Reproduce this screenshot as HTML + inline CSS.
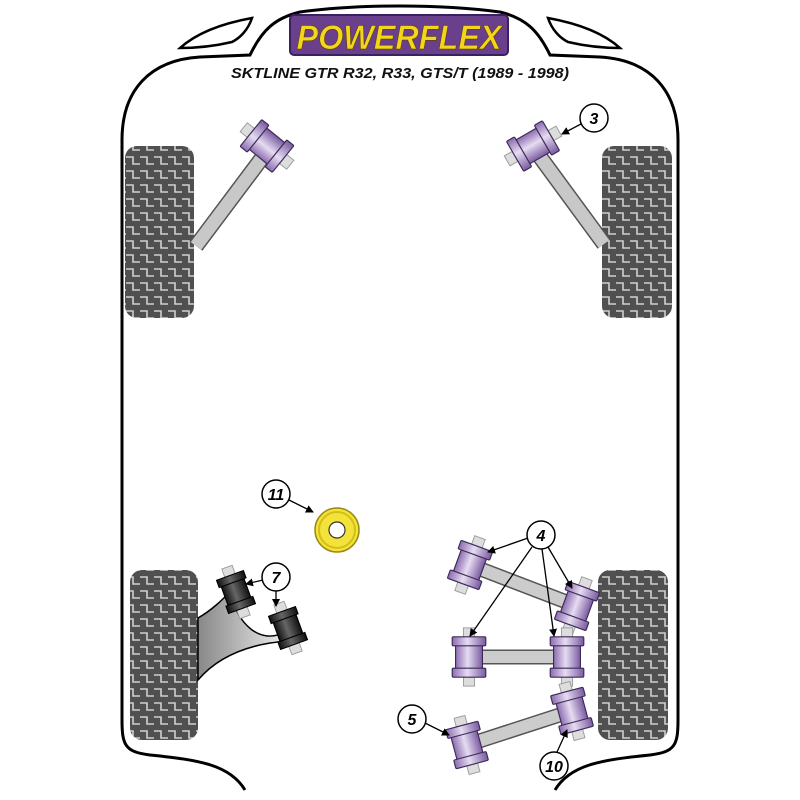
<!DOCTYPE html>
<html><head><meta charset="utf-8"><style>html,body{margin:0;padding:0;background:#fff}svg{display:block}</style></head>
<body>
<svg width="800" height="800" viewBox="0 0 800 800" xmlns="http://www.w3.org/2000/svg">
<defs>
<pattern id="tread" width="14" height="14" patternUnits="userSpaceOnUse">
<rect width="14" height="14" fill="#505050"/>
<path d="M0 3 H7 V10 H14" fill="none" stroke="#d0d0d0" stroke-width="1.6"/>
</pattern>
<linearGradient id="pur" x1="0" x2="1" y1="0" y2="0">
<stop offset="0" stop-color="#8c6cb0"/><stop offset="0.45" stop-color="#e6dcf2"/><stop offset="1" stop-color="#7a5aa0"/>
</linearGradient>
<linearGradient id="blk" x1="0" x2="1" y1="0" y2="0">
<stop offset="0" stop-color="#111"/><stop offset="0.45" stop-color="#666"/><stop offset="1" stop-color="#111"/>
</linearGradient>
<linearGradient id="wish" x1="0" x2="1" y1="0" y2="0">
<stop offset="0" stop-color="#888"/><stop offset="1" stop-color="#eee"/>
</linearGradient>
<g id="bush">
<rect x="-5" y="-26" width="10" height="10" fill="#ddd" stroke="#999" stroke-width="0.8"/>
<rect x="-5" y="16" width="10" height="10" fill="#ddd" stroke="#999" stroke-width="0.8"/>
<rect x="-12" y="-17" width="24" height="34" fill="url(#pur)" stroke="#3a2a55" stroke-width="1"/>
<rect x="-15" y="-18" width="30" height="8" rx="1" fill="url(#pur)" stroke="#3a2a55" stroke-width="1"/>
<rect x="-15" y="10" width="30" height="8" rx="1" fill="url(#pur)" stroke="#3a2a55" stroke-width="1"/>
</g>
<g id="bblk">
<rect x="-5" y="-24" width="10" height="10" fill="#ddd" stroke="#999" stroke-width="0.8"/>
<rect x="-5" y="14" width="10" height="10" fill="#ddd" stroke="#999" stroke-width="0.8"/>
<rect x="-11" y="-15" width="22" height="30" fill="url(#blk)" stroke="#000"/>
<rect x="-13" y="-16" width="26" height="7" fill="url(#blk)" stroke="#000"/>
<rect x="-13" y="9" width="26" height="7" fill="url(#blk)" stroke="#000"/>
</g>
<marker id="ar" markerWidth="8" markerHeight="8" refX="7" refY="4" orient="auto" markerUnits="userSpaceOnUse"><path d="M0 0 L8 4 L0 8 Z" fill="#000"/></marker>
</defs>

<path d="M245 790 C230 765 200 760 150 755 C125 752 122 745 122 720 L122 140 C122 90 150 60 200 57 L250 55 C262 30 275 18 300 12 C360 4 440 4 500 12 C525 18 538 30 550 55 L600 57 C650 60 678 90 678 140 L678 720 C678 745 675 752 650 755 C600 760 570 765 555 790" fill="none" stroke="#000" stroke-width="3"/>
<path d="M180 48 C200 30 230 22 252 18 C248 30 240 38 232 42 C215 46 195 48 180 48 Z" fill="none" stroke="#000" stroke-width="2.5"/>
<path d="M620 48 C600 30 570 22 548 18 C552 30 560 38 568 42 C585 46 605 48 620 48 Z" fill="none" stroke="#000" stroke-width="2.5"/>

<rect x="290" y="15" width="218" height="40" rx="4" fill="#6a3f8c" stroke="#3a2060" stroke-width="2"/>
<text x="399" y="49" text-anchor="middle" font-family="Liberation Sans, sans-serif" font-weight="bold" font-style="italic" font-size="34" fill="#f2d51c" stroke="#5a4000" stroke-width="0.6" textLength="205" lengthAdjust="spacingAndGlyphs">POWERFLEX</text>
<text x="400" y="78" text-anchor="middle" font-family="Liberation Sans, sans-serif" font-weight="bold" font-style="italic" font-size="15" fill="#111" textLength="338" lengthAdjust="spacingAndGlyphs">SKTLINE GTR R32, R33, GTS/T (1989 - 1998)</text>

<rect x="125" y="146" width="69" height="172" rx="12" fill="url(#tread)"/>
<rect x="602" y="146" width="70" height="172" rx="12" fill="url(#tread)"/>
<rect x="130" y="570" width="68" height="170" rx="12" fill="url(#tread)"/>
<rect x="598" y="570" width="70" height="170" rx="12" fill="url(#tread)"/>

<line x1="268" y1="150" x2="196" y2="246" stroke="#555" stroke-width="16"/>
<line x1="268" y1="150" x2="196" y2="246" stroke="#c8c8c8" stroke-width="13"/>
<line x1="535" y1="150" x2="604" y2="244" stroke="#555" stroke-width="16"/>
<line x1="535" y1="150" x2="604" y2="244" stroke="#c8c8c8" stroke-width="13"/>
<use href="#bush" transform="translate(267,146) rotate(-51) scale(1.15)"/>
<use href="#bush" transform="translate(533,146) rotate(60) scale(1.15)"/>

<path d="M198 618 C212 610 222 600 230 592 C238 625 260 645 285 632 C292 640 280 642 270 643 C240 648 215 660 198 680 Z" fill="url(#wish)" stroke="#000" stroke-width="1.5"/>
<use href="#bblk" transform="translate(236,592) rotate(-20) scale(1.1)"/>
<use href="#bblk" transform="translate(288,628) rotate(-20) scale(1.1)"/>

<circle cx="337" cy="530" r="22" fill="#f3e23a" stroke="#9a8a10" stroke-width="1.5"/>
<circle cx="337" cy="530" r="18" fill="none" stroke="#d4be18" stroke-width="2"/>
<circle cx="337" cy="530" r="8" fill="#fff" stroke="#333" stroke-width="1.2"/>

<line x1="470" y1="565" x2="577" y2="606" stroke="#555" stroke-width="15"/>
<line x1="470" y1="565" x2="577" y2="606" stroke="#ccc" stroke-width="12"/>
<line x1="470" y1="657" x2="568" y2="657" stroke="#555" stroke-width="15"/>
<line x1="470" y1="657" x2="568" y2="657" stroke="#ccc" stroke-width="12"/>
<line x1="467" y1="745" x2="572" y2="711" stroke="#555" stroke-width="15"/>
<line x1="467" y1="745" x2="572" y2="711" stroke="#ccc" stroke-width="12"/>
<use href="#bush" transform="translate(470,565) rotate(20) scale(1.12)"/>
<use href="#bush" transform="translate(577,606) rotate(20) scale(1.12)"/>
<use href="#bush" transform="translate(469,657) scale(1.12)"/>
<use href="#bush" transform="translate(567,657) scale(1.12)"/>
<use href="#bush" transform="translate(467,745) rotate(-15) scale(1.12)"/>
<use href="#bush" transform="translate(572,711) rotate(-15) scale(1.12)"/>

<g stroke="#000" stroke-width="1.3" fill="none">
<line x1="581" y1="124" x2="562" y2="134" marker-end="url(#ar)"/>
<line x1="289" y1="500" x2="313" y2="512" marker-end="url(#ar)"/>
<line x1="263" y1="580" x2="246" y2="584" marker-end="url(#ar)"/>
<line x1="276" y1="591" x2="276" y2="606" marker-end="url(#ar)"/>
<line x1="528" y1="538" x2="488" y2="552" marker-end="url(#ar)"/>
<line x1="532" y1="547" x2="470" y2="636" marker-end="url(#ar)"/>
<line x1="542" y1="549" x2="554" y2="636" marker-end="url(#ar)"/>
<line x1="548" y1="547" x2="572" y2="588" marker-end="url(#ar)"/>
<line x1="425" y1="723" x2="449" y2="735" marker-end="url(#ar)"/>
<line x1="557" y1="752" x2="567" y2="730" marker-end="url(#ar)"/>
</g>
<g font-family="Liberation Sans, sans-serif" font-weight="bold" font-style="italic" font-size="16" text-anchor="middle">
<circle cx="594" cy="118" r="14" fill="#fff" stroke="#000" stroke-width="1.5"/><text x="594" y="124">3</text>
<circle cx="276" cy="494" r="14" fill="#fff" stroke="#000" stroke-width="1.5"/><text x="276" y="500">11</text>
<circle cx="276" cy="577" r="14" fill="#fff" stroke="#000" stroke-width="1.5"/><text x="276" y="583">7</text>
<circle cx="541" cy="535" r="14" fill="#fff" stroke="#000" stroke-width="1.5"/><text x="541" y="541">4</text>
<circle cx="412" cy="719" r="14" fill="#fff" stroke="#000" stroke-width="1.5"/><text x="412" y="725">5</text>
<circle cx="554" cy="766" r="14" fill="#fff" stroke="#000" stroke-width="1.5"/><text x="554" y="772">10</text>
</g>
</svg>
</body></html>
